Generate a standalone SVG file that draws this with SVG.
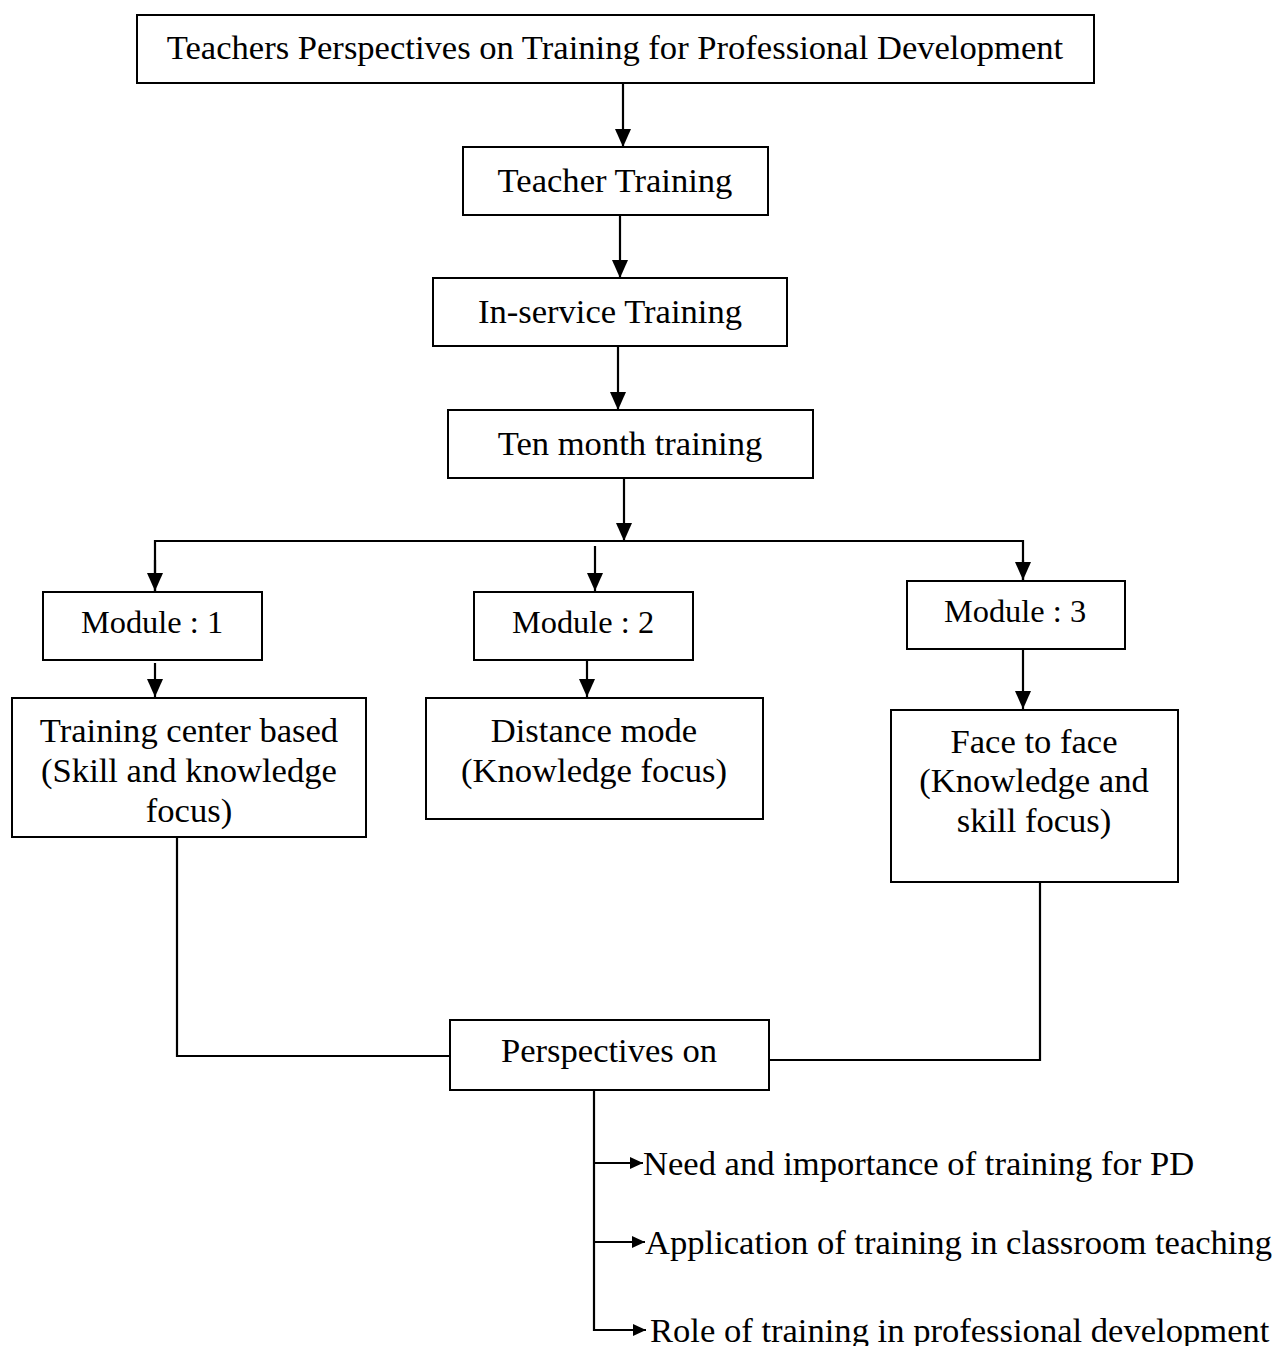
<svg xmlns="http://www.w3.org/2000/svg" width="1278" height="1346" viewBox="0 0 1278 1346">
<style>
.box{fill:#fff;stroke:#000;stroke-width:2}
.t{font-family:"Liberation Serif","Times New Roman",serif;font-size:34.6px;fill:#000;text-anchor:middle;dominant-baseline:central}
.m{font-size:32.4px}
.l{text-anchor:start}
.c{fill:none;stroke:#000;stroke-width:2.2}
</style>
<defs>
<marker id="ah" markerWidth="18" markerHeight="16" refX="18" refY="8" orient="auto" markerUnits="userSpaceOnUse">
<path d="M0,0 L18,8 L0,16 Z" fill="#000"/>
</marker>
<marker id="as" markerWidth="13" markerHeight="12" refX="13" refY="6" orient="auto" markerUnits="userSpaceOnUse">
<path d="M0,0 L13,6 L0,12 Z" fill="#000"/>
</marker>
</defs>
<rect width="1278" height="1346" fill="#fff"/>
<g id="connectors">
<line class="c" x1="623" y1="83" x2="623" y2="147" marker-end="url(#ah)"/>
<line class="c" x1="620" y1="215" x2="620" y2="278" marker-end="url(#ah)"/>
<line class="c" x1="618" y1="346" x2="618" y2="410" marker-end="url(#ah)"/>
<line class="c" x1="624" y1="478" x2="624" y2="541" marker-end="url(#ah)"/>
<polyline class="c" points="155,591 155,541 1023,541 1023,580"/>
<line class="c" x1="155" y1="560" x2="155" y2="591" marker-end="url(#ah)"/>
<line class="c" x1="1023" y1="560" x2="1023" y2="580" marker-end="url(#ah)"/>
<line class="c" x1="595" y1="546" x2="595" y2="591" marker-end="url(#ah)"/>
<line class="c" x1="155" y1="663" x2="155" y2="697" marker-end="url(#ah)"/>
<line class="c" x1="587" y1="661" x2="587" y2="697" marker-end="url(#ah)"/>
<line class="c" x1="1023" y1="649" x2="1023" y2="709" marker-end="url(#ah)"/>
<polyline class="c" points="177,837 177,1056 450,1056"/>
<polyline class="c" points="1040,882 1040,1060 767,1060"/>
<polyline class="c" points="594,1090 594,1330 646,1330" marker-end="url(#as)"/>
<line class="c" x1="594" y1="1163" x2="643" y2="1163" marker-end="url(#as)"/>
<line class="c" x1="594" y1="1242" x2="645" y2="1242" marker-end="url(#as)"/>
</g>
<g id="title"><rect class="box" x="137" y="15" width="957" height="68"/><text class="t" x="615" y="47">Teachers Perspectives on Training for Professional Development</text></g>
<g id="teacher-training"><rect class="box" x="463" y="147" width="305" height="68"/><text class="t" x="615" y="180">Teacher Training</text></g>
<g id="in-service"><rect class="box" x="433" y="278" width="354" height="68"/><text class="t" x="610" y="311">In-service Training</text></g>
<g id="ten-month"><rect class="box" x="448" y="410" width="365" height="68"/><text class="t" x="630" y="443">Ten month training</text></g>
<g id="module1"><rect class="box" x="43" y="592" width="219" height="68"/><text class="t m" x="152" y="622">Module : 1</text></g>
<g id="module2"><rect class="box" x="474" y="592" width="219" height="68"/><text class="t m" x="583" y="622">Module : 2</text></g>
<g id="module3"><rect class="box" x="907" y="581" width="218" height="68"/><text class="t m" x="1015" y="611">Module : 3</text></g>
<g id="training-center"><rect class="box" x="12" y="698" width="354" height="139"/><text class="t" x="189" y="730">Training center based</text><text class="t" x="189" y="770">(Skill and knowledge</text><text class="t" x="189" y="810">focus)</text></g>
<g id="distance"><rect class="box" x="426" y="698" width="337" height="121"/><text class="t" x="594" y="730">Distance mode</text><text class="t" x="594" y="770">(Knowledge focus)</text></g>
<g id="face"><rect class="box" x="891" y="710" width="287" height="172"/><text class="t" x="1034" y="741">Face to face</text><text class="t" x="1034" y="780">(Knowledge and</text><text class="t" x="1034" y="820">skill focus)</text></g>
<g id="perspectives"><rect class="box" x="450" y="1020" width="319" height="70"/><text class="t" x="609" y="1050">Perspectives on</text></g>
<g id="item1"><text class="t l" x="643" y="1163">Need and importance of training for PD</text></g>
<g id="item2"><text class="t l" x="645" y="1242">Application of training in classroom teaching</text></g>
<g id="item3"><text class="t l" x="650" y="1330">Role of training in professional development</text></g>
</svg>
